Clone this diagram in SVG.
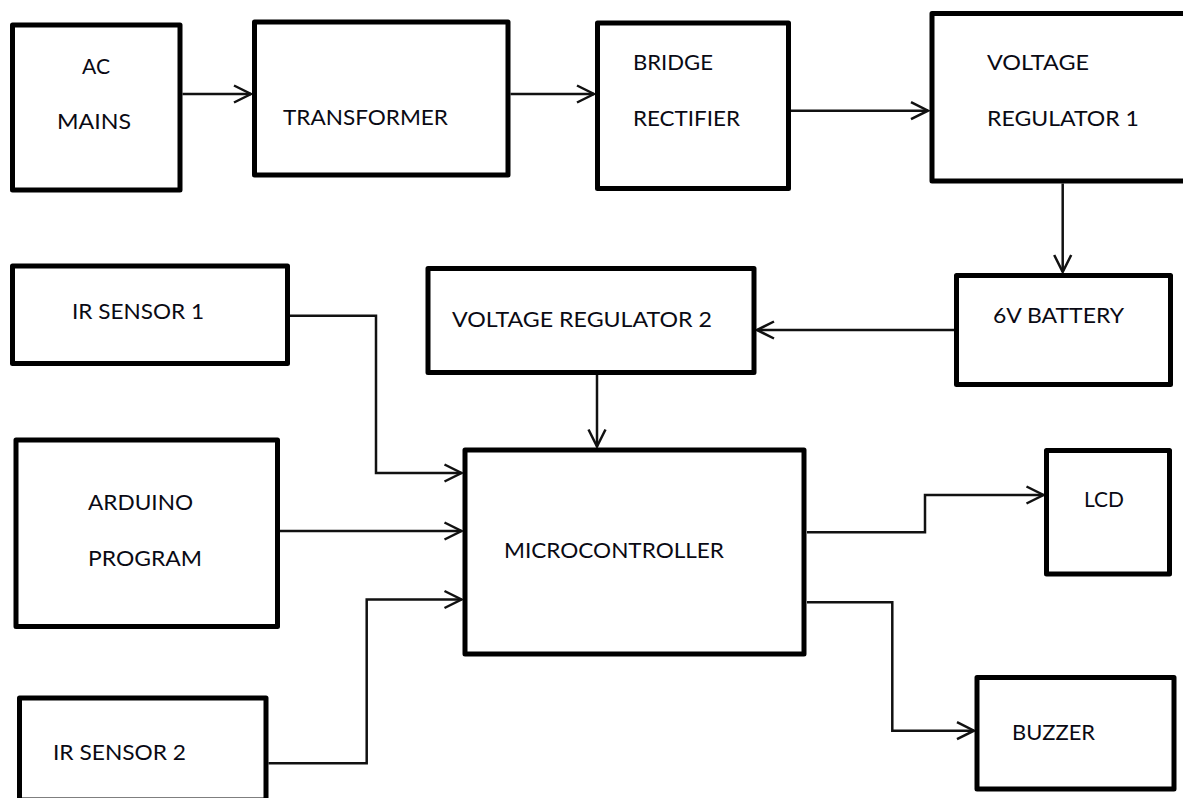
<svg xmlns="http://www.w3.org/2000/svg" width="1183" height="798" viewBox="0 0 1183 798">
<defs>
<style>
.box{fill:#fff;stroke:#000;stroke-width:5;stroke-linejoin:round}
.lbl{font-family:Lato,"Liberation Sans",sans-serif;font-size:22px;fill:#0a0a14}
.con{fill:none;stroke:#111;stroke-width:2.5;stroke-linejoin:miter}
</style>
<marker id="arr" markerUnits="userSpaceOnUse" markerWidth="24" markerHeight="24" viewBox="-20 -12 24 24" refX="0" refY="0" orient="auto">
<path d="M-17,-8.5 L0,0 L-17,8.5" fill="none" stroke="#111" stroke-width="2.5"/>
</marker>
</defs>
<rect width="1183" height="798" fill="#fff"/>
<g id="connectors">
<path class="con" d="M182.5,94 H251" marker-end="url(#arr)"/>
<path class="con" d="M510.5,94 H594" marker-end="url(#arr)"/>
<path class="con" d="M791,110.7 H928" marker-end="url(#arr)"/>
<path class="con" d="M1062.7,183.5 V272" marker-end="url(#arr)"/>
<path class="con" d="M954,330 H757" marker-end="url(#arr)"/>
<path class="con" d="M597,375 V446.5" marker-end="url(#arr)"/>
<path class="con" d="M290,315.7 H376 V473 H461.5" marker-end="url(#arr)"/>
<path class="con" d="M280,531 H461.5" marker-end="url(#arr)"/>
<path class="con" d="M268.5,763.3 H366.7 V599.5 H461.5" marker-end="url(#arr)"/>
<path class="con" d="M807,532.3 H925 V495 H1043.5" marker-end="url(#arr)"/>
<path class="con" d="M807,602.3 H892.3 V730.7 H974" marker-end="url(#arr)"/>
</g>
<g id="ac-mains">
<rect class="box" x="12.5" y="25" width="167.5" height="165"/>
<text class="lbl" x="82" y="74" textLength="28" lengthAdjust="spacingAndGlyphs">AC</text>
<text class="lbl" x="57" y="129" textLength="74" lengthAdjust="spacingAndGlyphs">MAINS</text>
</g>
<g id="transformer">
<rect class="box" x="254.5" y="22" width="253.5" height="153"/>
<text class="lbl" x="283" y="125" textLength="165" lengthAdjust="spacingAndGlyphs">TRANSFORMER</text>
</g>
<g id="bridge-rectifier">
<rect class="box" x="597.5" y="23" width="191" height="165.5"/>
<text class="lbl" x="633" y="70" textLength="80" lengthAdjust="spacingAndGlyphs">BRIDGE</text>
<text class="lbl" x="633" y="126" textLength="107" lengthAdjust="spacingAndGlyphs">RECTIFIER</text>
</g>
<g id="voltage-regulator-1">
<rect class="box" x="932" y="13.5" width="258" height="167.5"/>
<text class="lbl" x="987" y="70" textLength="102" lengthAdjust="spacingAndGlyphs">VOLTAGE</text>
<text class="lbl" x="987" y="126" textLength="152" lengthAdjust="spacingAndGlyphs">REGULATOR 1</text>
</g>
<g id="battery">
<rect class="box" x="956.5" y="275.5" width="214" height="109"/>
<text class="lbl" x="993" y="323" textLength="131" lengthAdjust="spacingAndGlyphs">6V BATTERY</text>
</g>
<g id="voltage-regulator-2">
<rect class="box" x="428" y="268.5" width="326" height="104"/>
<text class="lbl" x="452" y="327" textLength="260" lengthAdjust="spacingAndGlyphs">VOLTAGE REGULATOR 2</text>
</g>
<g id="microcontroller">
<rect class="box" x="465" y="450" width="339" height="204"/>
<text class="lbl" x="504" y="558" textLength="220" lengthAdjust="spacingAndGlyphs">MICROCONTROLLER</text>
</g>
<g id="ir-sensor-1">
<rect class="box" x="12.5" y="266" width="275" height="97.5"/>
<text class="lbl" x="72" y="319" textLength="132" lengthAdjust="spacingAndGlyphs">IR SENSOR 1</text>
</g>
<g id="arduino-program">
<rect class="box" x="16" y="440" width="261.5" height="186.5"/>
<text class="lbl" x="88" y="510" textLength="105" lengthAdjust="spacingAndGlyphs">ARDUINO</text>
<text class="lbl" x="88" y="566" textLength="114" lengthAdjust="spacingAndGlyphs">PROGRAM</text>
</g>
<g id="ir-sensor-2">
<rect class="box" x="19.5" y="698" width="246.5" height="102"/>
<text class="lbl" x="53" y="760" textLength="133" lengthAdjust="spacingAndGlyphs">IR SENSOR 2</text>
</g>
<g id="lcd">
<rect class="box" x="1046.5" y="450.5" width="123" height="123.5"/>
<text class="lbl" x="1084" y="507" textLength="40" lengthAdjust="spacingAndGlyphs">LCD</text>
</g>
<g id="buzzer">
<rect class="box" x="977" y="677.5" width="197" height="111.5"/>
<text class="lbl" x="1012" y="740" textLength="83" lengthAdjust="spacingAndGlyphs">BUZZER</text>
</g>
</svg>
